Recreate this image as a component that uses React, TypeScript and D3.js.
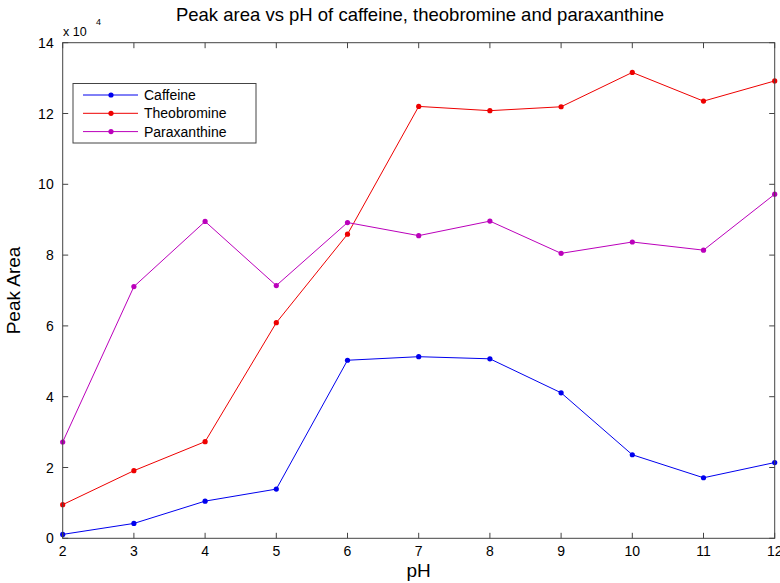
import React from "react";
import * as d3 from "d3";

const pH = [2, 3, 4, 5, 6, 7, 8, 9, 10, 11, 12];
const caffeine = [0.11, 0.42, 1.05, 1.39, 5.03, 5.13, 5.07, 4.11, 2.36, 1.71, 2.14];
const theobromine = [0.95, 1.91, 2.73, 6.09, 8.59, 12.2, 12.08, 12.19, 13.16, 12.35, 12.92];
const paraxanthine = [2.72, 7.11, 8.95, 7.14, 8.92, 8.55, 8.96, 8.05, 8.37, 8.14, 9.72];
const seriesNames = ["Caffeine", "Theobromine", "Paraxanthine"];
const seriesColors = ["#0000ee", "#ee0000", "#bb00bb"];
const xTicks = [2, 3, 4, 5, 6, 7, 8, 9, 10, 11, 12];
const yTicks = [0, 2, 4, 6, 8, 10, 12, 14];

const W = 780, H = 583;
const L = 62.7, R = 774.7, T = 42.7, B = 538.3;
const font = "'Liberation Sans', Arial, Helvetica, sans-serif";

export default function App() {
  const x = d3.scaleLinear().domain([2, 12]).range([L, R]);
  const y = d3.scaleLinear().domain([0, 14]).range([B, T]);
  const line = d3.line<[number, number]>().x(d => x(d[0])).y(d => y(d[1]));
  const all = [caffeine, theobromine, paraxanthine];
  const axisColor = "#444";
  const tk = 5.5;
  return (
    <svg width={W} height={H} style={{ position: "absolute", left: 0, top: 0, background: "#fff" }} fontFamily={font}>
      <rect x={0} y={0} width={W} height={H} fill="#fff" />
      <text x={420} y={21} textAnchor="middle" fontSize={18.5} fill="#000">
        Peak area vs pH of caffeine, theobromine and paraxanthine
      </text>
      {all.map((s, i) => (
        <g key={i}>
          <path d={line(s.map((v, j) => [pH[j], v] as [number, number])) || ""} fill="none" stroke={seriesColors[i]} strokeWidth={1} />
          {s.map((v, j) => (
            <circle key={j} cx={x(pH[j])} cy={y(v)} r={2.6} fill={seriesColors[i]} />
          ))}
        </g>
      ))}
      <rect x={L} y={T} width={R - L} height={B - T} fill="none" stroke={axisColor} strokeWidth={1} />
      {xTicks.map(t => (
        <g key={"x" + t}>
          <line x1={x(t)} x2={x(t)} y1={B} y2={B - tk} stroke={axisColor} />
          <line x1={x(t)} x2={x(t)} y1={T} y2={T + tk} stroke={axisColor} />
          <text x={x(t)} y={B + 18} textAnchor="middle" fontSize={14} fill="#000">{t}</text>
        </g>
      ))}
      {yTicks.map(t => (
        <g key={"y" + t}>
          <line x1={L} x2={L + tk} y1={y(t)} y2={y(t)} stroke={axisColor} />
          <line x1={R} x2={R - tk} y1={y(t)} y2={y(t)} stroke={axisColor} />
          <text x={L - 9} y={y(t) + 5} textAnchor="end" fontSize={14} fill="#000">{t}</text>
        </g>
      ))}
      <text x={63} y={36} fontSize={12.5} fill="#000">x 10</text>
      <text x={96} y={25} fontSize={9} fill="#000">4</text>
      <text x={(L + R) / 2} y={577} textAnchor="middle" fontSize={19} fill="#000">pH</text>
      <text transform={`translate(20,${(T + B) / 2}) rotate(-90)`} textAnchor="middle" fontSize={19} fill="#000">Peak Area</text>
      <g>
        <rect x={73} y={83.5} width={183} height={59.5} fill="#fff" stroke={axisColor} strokeWidth={1} />
        {seriesNames.map((n, i) => {
          const yy = 95 + i * 18.3;
          return (
            <g key={n}>
              <line x1={83} x2={138} y1={yy} y2={yy} stroke={seriesColors[i]} strokeWidth={1} />
              <circle cx={111} cy={yy} r={2.6} fill={seriesColors[i]} />
              <text x={144} y={yy + 5} fontSize={14} fill="#000">{n}</text>
            </g>
          );
        })}
      </g>
    </svg>
  );
}
